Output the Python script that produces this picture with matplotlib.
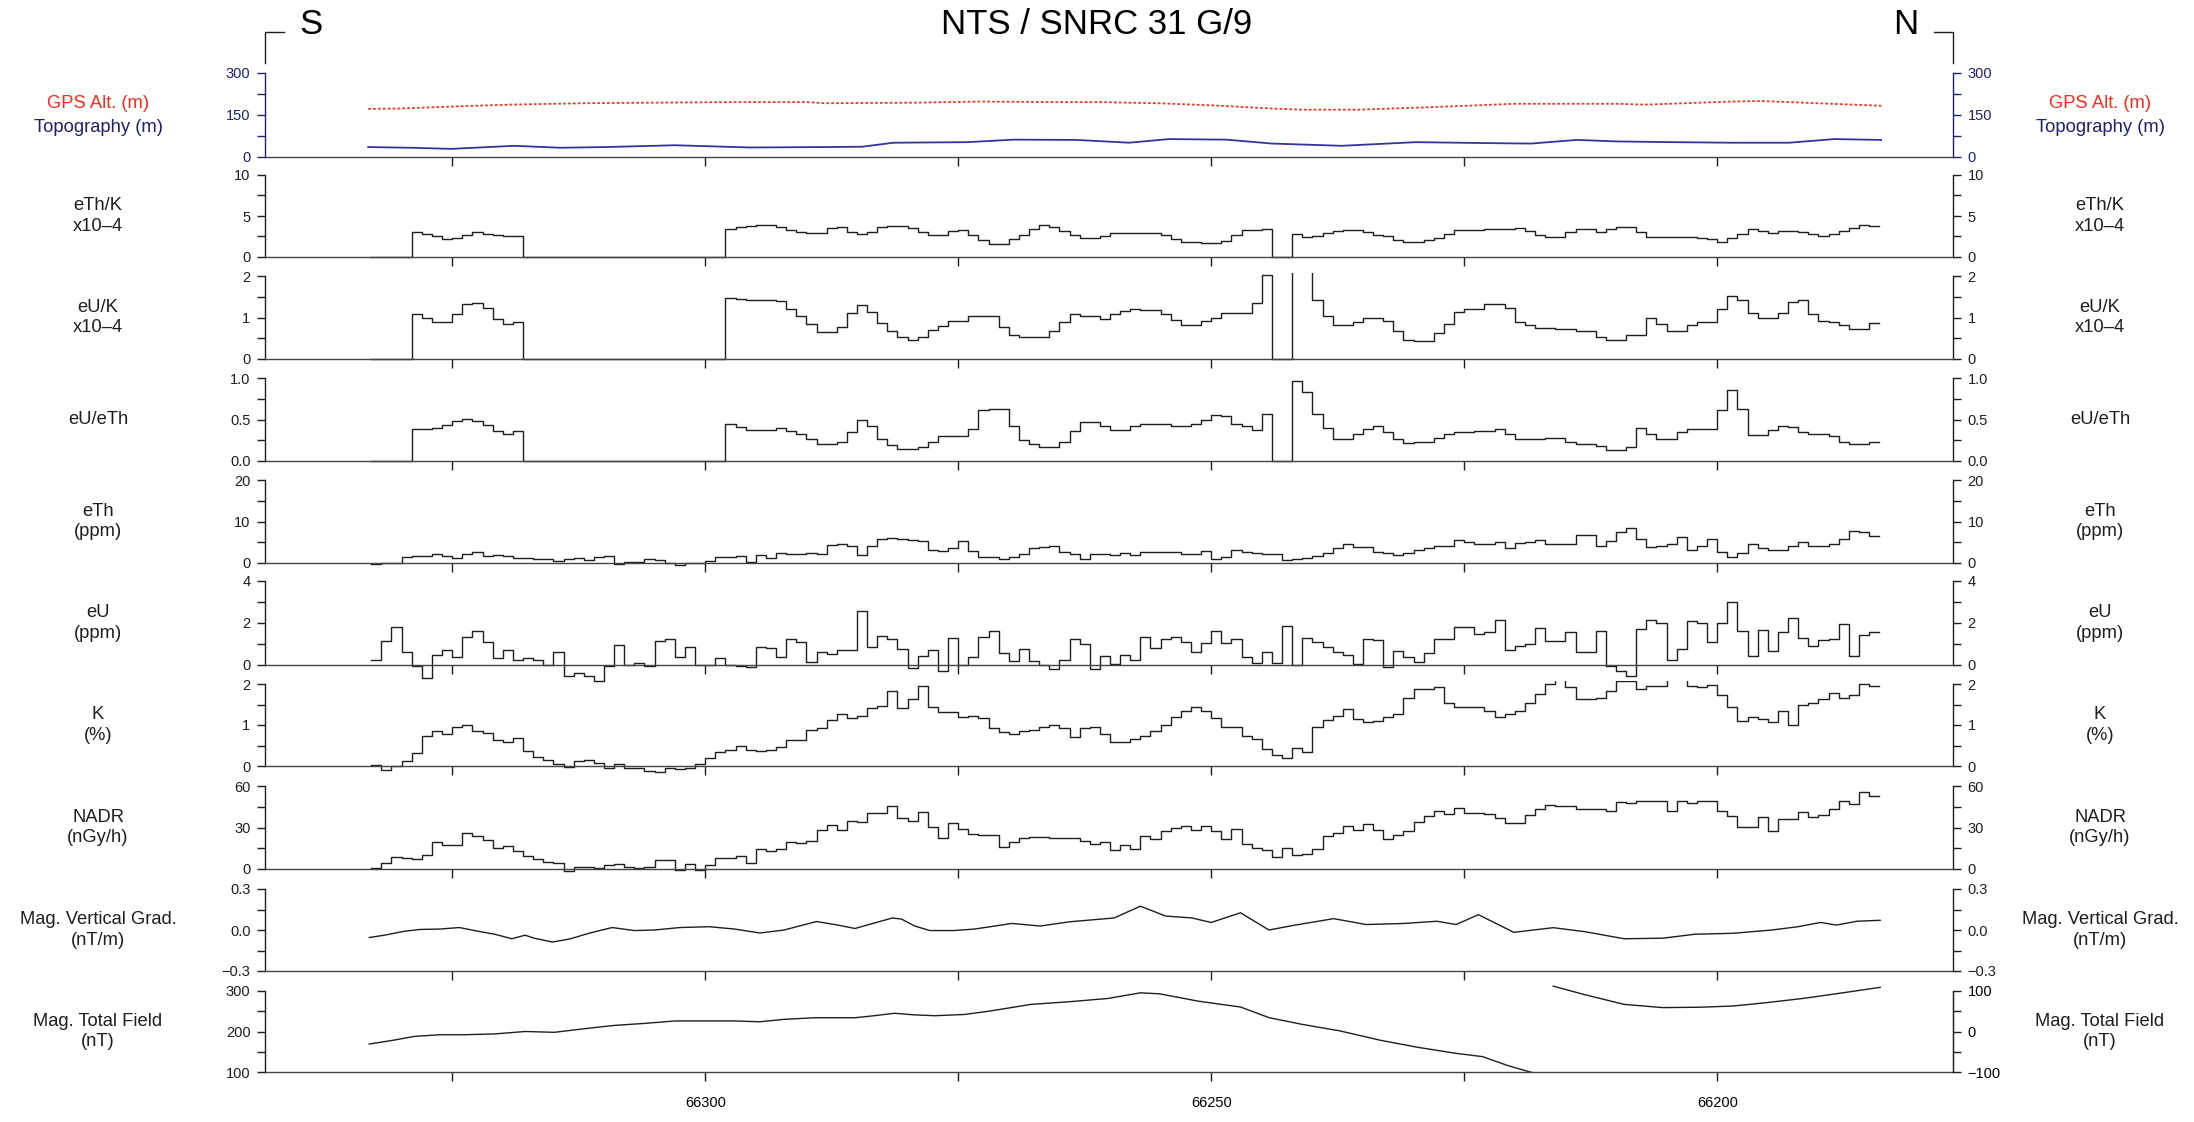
import numpy as np
import matplotlib.pyplot as plt
from matplotlib.lines import Line2D
from matplotlib.patches import Rectangle

plt.rcParams['font.family'] = ['Liberation Sans', 'DejaVu Sans']

W, H = 2194, 1122

# ---------------------------------------------------------------- data
# radiometric channels: one value per 1-fiducial bin, first bin starts at FID0
FID0 = 66333

eth_k = [0, 0, 0, 0,
         3.05, 2.8, 2.5, 2.2, 2.3, 2.65, 3.0, 2.85, 2.7, 2.5, 2.55,
         0, 0, 0, 0, 0, 0, 0, 0, 0, 0, 0, 0, 0, 0, 0, 0, 0, 0, 0, 0,
         3.4, 3.6, 3.75, 3.9, 3.9, 3.7, 3.3, 3.05, 2.9, 2.9, 3.5, 3.65, 3.1, 2.75, 3.0,
         3.6, 3.75, 3.75, 3.5, 3.05, 2.65, 2.65, 3.2, 3.35, 2.7, 2.1,
         1.6, 1.6, 2.2, 2.7, 3.45, 3.95, 3.7, 3.2, 2.7, 2.35, 2.35, 2.55, 2.95, 2.95,
         2.95, 2.95, 2.95, 2.65, 2.2, 1.8, 1.8, 1.7, 1.7, 1.95, 2.7, 3.3, 3.3, 3.45,
         0, 0,
         2.8, 2.45, 2.55, 2.95, 3.2, 3.3, 3.3, 3.0, 2.7, 2.55,
         2.05, 1.8, 1.8, 2.05, 2.35, 2.8, 3.3, 3.3, 3.3, 3.4,
         3.4, 3.45, 3.55, 3.2, 2.7, 2.45, 2.45, 3.0, 3.45, 3.45,
         3.1, 3.45, 3.7, 3.7, 3.0, 2.45, 2.45, 2.45, 2.45, 2.45,
         2.35, 2.2, 1.8, 2.35, 2.8, 3.4, 3.2, 2.9, 3.2, 3.2,
         3.1, 2.8, 2.55, 2.8, 3.2, 3.55, 3.95, 3.75]

eu_k = [0, 0, 0, 0,
        1.08, 0.99, 0.88, 0.88, 1.08, 1.33, 1.36, 1.24, 0.97, 0.85, 0.89,
        0, 0, 0, 0, 0, 0, 0, 0, 0, 0, 0, 0, 0, 0, 0, 0, 0, 0, 0, 0,
        1.48, 1.44, 1.43, 1.42, 1.42, 1.40, 1.21, 1.03, 0.84, 0.65, 0.65, 0.76, 1.10,
        1.29, 1.14, 0.86, 0.67, 0.54, 0.46, 0.52, 0.69, 0.80, 0.91, 0.91, 1.03, 1.03,
        1.04, 0.77, 0.58, 0.52, 0.52, 0.54, 0.67, 0.9, 1.08, 1.04, 1.04, 0.96, 1.08, 1.15,
        1.21, 1.19, 1.19, 1.08, 0.95, 0.82, 0.82, 0.92, 1.0, 1.1, 1.1, 1.1, 1.36, 2.02,
        0, 0,
        2.15, 2.15, 1.42, 1.04, 0.81, 0.81, 0.9, 1.0, 1.0, 0.92,
        0.67, 0.46, 0.44, 0.44, 0.62, 0.85, 1.13, 1.21, 1.21, 1.33,
        1.33, 1.23, 0.88, 0.81, 0.75, 0.75, 0.72, 0.72, 0.67, 0.67,
        0.52, 0.46, 0.46, 0.58, 0.58, 0.98, 0.85, 0.67, 0.67, 0.82,
        0.9, 0.9, 1.21, 1.52, 1.42, 1.12, 0.98, 0.98, 1.10, 1.38,
        1.41, 1.08, 0.92, 0.88, 0.81, 0.73, 0.73, 0.87]

eu_eth = [0, 0, 0, 0,
          0.385, 0.385, 0.40, 0.43, 0.48, 0.51, 0.48, 0.43, 0.36, 0.32, 0.36,
          0, 0, 0, 0, 0, 0, 0, 0, 0, 0, 0, 0, 0, 0, 0, 0, 0, 0, 0, 0,
          0.445, 0.415, 0.37, 0.37, 0.37, 0.40, 0.36, 0.32, 0.26, 0.2, 0.2, 0.23, 0.35,
          0.5, 0.42, 0.26, 0.19, 0.14, 0.14, 0.17, 0.23, 0.3, 0.3, 0.3, 0.38, 0.62,
          0.63, 0.63, 0.42, 0.25, 0.2, 0.17, 0.17, 0.23, 0.36, 0.47, 0.47, 0.42, 0.37, 0.37,
          0.42, 0.45, 0.45, 0.44, 0.42, 0.42, 0.45, 0.5, 0.56, 0.54, 0.45, 0.42, 0.37, 0.57,
          0, 0,
          0.96, 0.83, 0.57, 0.40, 0.27, 0.27, 0.32, 0.39, 0.42, 0.35,
          0.27, 0.22, 0.23, 0.23, 0.28, 0.33, 0.35, 0.35, 0.36, 0.36,
          0.39, 0.32, 0.26, 0.27, 0.27, 0.28, 0.28, 0.23, 0.21, 0.21,
          0.18, 0.13, 0.13, 0.17, 0.4, 0.33, 0.27, 0.27, 0.35, 0.38,
          0.38, 0.38, 0.61, 0.85, 0.63, 0.31, 0.31, 0.37, 0.42, 0.41,
          0.35, 0.32, 0.32, 0.30, 0.23, 0.2, 0.21, 0.23]

eth = [-0.2, 0.0, 0.0, 1.5, 1.7, 1.7, 2.1, 1.6, 1.3, 2.2,
       2.7, 1.8, 1.85, 1.6, 1.3, 1.3, 1.0, 1.0, 0.4, 0.9,
       1.1, 0.75, 1.5, 1.7, -0.15, 0.2, 0.15, 1.0, 0.75, 0.0,
       -0.4, 0.0, 0.0, 0.4, 1.5, 1.5, 1.6, 0.15, 2.0, 1.3,
       2.4, 2.1, 2.1, 2.4, 2.2, 4.3, 4.6, 4.1, 1.85, 4.1,
       5.8, 6.1, 5.8, 5.6, 5.2, 3.1, 3.0, 3.6, 5.3, 2.8,
       1.5, 1.5, 1.0, 1.35, 2.1, 3.5, 3.8, 4.2, 2.7, 2.25,
       1.0, 2.25, 2.25, 1.95, 2.5, 1.95, 2.6, 2.6, 2.6, 2.6,
       2.25, 2.25, 3.0, 1.0, 1.5, 3.2, 2.7, 2.5, 2.1, 2.1,
       0.75, 1.0, 1.2, 1.7, 2.5, 3.5, 4.5, 3.8, 3.8, 2.7,
       2.4, 1.95, 2.5, 3.2, 3.6, 4.2, 4.2, 5.6, 5.0, 4.5,
       4.5, 5.1, 3.6, 4.7, 5.0, 5.5, 4.5, 4.5, 4.5, 6.8,
       6.8, 4.2, 5.3, 7.5, 8.5, 5.9, 3.8, 4.2, 4.5, 6.2,
       3.2, 4.0, 5.9, 2.7, 1.5, 2.5, 4.5, 3.6, 3.2, 3.2,
       4.0, 5.0, 4.2, 4.0, 4.5, 5.9, 7.7, 7.5, 6.6]

eu = [0.25, 1.14, 1.82, 0.6, -0.07, -0.6, 0.47, 0.73, 0.4, 1.33,
      1.63, 1.11, 0.34, 0.7, 0.25, 0.34, 0.25, 0.0, 0.64, -0.52,
      -0.4, -0.52, -0.74, -0.07, 0.96, 0.0, 0.1, -0.07, 1.14, 1.26,
      0.37, 0.84, 0.0, 0.0, 0.34, 0.0, -0.04, -0.1, 0.84, 0.79,
      0.4, 1.23, 1.11, 0.15, 0.6, 0.52, 0.7, 0.7, 2.55, 0.84,
      1.36, 1.23, 0.74, -0.15, 0.44, 0.7, -0.3, 1.29, 0.0, 0.4,
      1.33, 1.64, 0.55, 0.18, 0.75, 0.2, 0.0, -0.2, 0.25, 1.25,
      1.0, -0.2, 0.45, 0.03, 0.48, 0.25, 1.34, 0.8, 1.22, 1.34,
      1.1, 0.6, 1.07, 1.64, 1.07, 1.25, 0.36, 0.1, 0.6, 0.1,
      1.85, 0.0, 1.3, 1.1, 0.85, 0.6, 0.48, 0.06, 1.22, 1.19,
      -0.1, 0.66, 0.36, 0.15, 0.55, 1.25, 1.25, 1.79, 1.79, 1.5,
      1.55, 2.15, 0.7, 0.9, 1.0, 1.75, 1.15, 1.15, 1.55, 0.63,
      0.63, 1.64, -0.05, -0.27, -0.5, 1.7, 2.15, 2.0, 0.25, 0.75,
      2.1, 2.0, 1.1, 2.0, 3.0, 1.6, 0.45, 1.67, 0.66, 1.55,
      2.25, 1.3, 0.9, 1.19, 1.25, 1.95, 0.45, 1.45, 1.55]

k_pct = [0.02, -0.09, 0.0, 0.12, 0.32, 0.73, 0.86, 0.78, 0.96, 1.0,
         0.85, 0.81, 0.63, 0.58, 0.68, 0.37, 0.23, 0.15, 0.06, -0.02,
         0.12, 0.14, 0.08, -0.04, 0.06, -0.04, -0.06, -0.12, -0.14, -0.04,
         -0.08, -0.04, 0.04, 0.19, 0.35, 0.4, 0.5, 0.4, 0.37, 0.4,
         0.46, 0.63, 0.63, 0.88, 0.92, 1.12, 1.27, 1.17, 1.23, 1.42,
         1.46, 1.83, 1.42, 1.63, 1.96, 1.45, 1.32, 1.31, 1.19, 1.23,
         1.17, 0.92, 0.84, 0.78, 0.86, 0.89, 0.94, 1.0, 0.92, 0.7,
         0.92, 0.96, 0.78, 0.59, 0.59, 0.65, 0.72, 0.86, 1.0, 1.2,
         1.35, 1.43, 1.35, 1.16, 0.96, 0.96, 0.73, 0.67, 0.41, 0.27,
         0.19, 0.43, 0.35, 0.96, 1.12, 1.22, 1.38, 1.14, 1.08, 1.1,
         1.19, 1.28, 1.65, 1.87, 1.89, 1.93, 1.54, 1.43, 1.43, 1.43,
         1.35, 1.2, 1.27, 1.35, 1.54, 1.76, 2.0, 2.3, 1.92, 1.63,
         1.63, 1.67, 1.84, 2.08, 2.08, 1.89, 1.95, 1.95, 2.3, 2.3,
         1.95, 1.92, 1.98, 1.73, 1.43, 1.1, 1.19, 1.14, 1.08, 1.33,
         1.0, 1.49, 1.54, 1.63, 1.77, 1.67, 1.73, 2.0, 1.95]

nadr = [0.4, 4.5, 9.0, 8.3, 7.4, 10.1, 19.5, 17.3, 17.3, 26.3,
        24.0, 20.9, 15.1, 16.4, 12.8, 9.7, 7.4, 5.2, 4.5, -1.1,
        1.6, 1.1, 0.7, 2.9, 3.8, 1.1, 0.7, 1.1, 6.5, 6.5,
        -0.7, 3.8, -0.7, 2.9, 8.3, 8.3, 9.7, 4.3, 14.2, 12.8,
        14.2, 19.5, 18.7, 20.2, 28.1, 32.1, 28.1, 34.8, 33.7, 40.4,
        40.4, 45.6, 36.6, 34.4, 41.1, 30.3, 22.5, 33.0, 29.2, 25.4,
        24.7, 24.3, 16.2, 19.5, 22.6, 23.1, 23.1, 22.4, 22.4, 22.4,
        20.2, 17.9, 19.5, 13.8, 17.1, 14.8, 23.8, 21.4, 27.4, 29.8,
        31.4, 28.1, 31.4, 27.4, 21.4, 28.6, 17.9, 15.5, 13.8, 9.0,
        15.5, 10.0, 10.7, 14.3, 23.8, 26.2, 31.0, 28.1, 32.6, 28.1,
        21.4, 24.3, 27.4, 33.8, 38.1, 41.7, 40.0, 44.0, 40.5, 40.5,
        40.0, 36.9, 33.3, 33.3, 39.3, 43.3, 46.4, 45.7, 45.7, 43.3,
        43.3, 43.3, 41.7, 48.1, 47.6, 48.8, 48.8, 49.5, 41.7, 49.5,
        47.6, 48.8, 48.8, 41.7, 38.1, 30.5, 30.5, 37.6, 27.4, 36.2,
        36.2, 41.0, 37.6, 39.3, 43.3, 48.8, 47.1, 56.0, 52.9]

# continuous channels: (fiducial, value)
gps_fid = [66333.3, 66330.2, 66325.1, 66319.4, 66312.1, 66305.3, 66296.7, 66289.9,
           66288.2, 66279.2, 66272.9, 66265.5, 66261.0, 66255.3, 66249.6, 66244.0,
           66241.1, 66235.4, 66229.8, 66224.1, 66220.1, 66209.9, 66207.1, 66198.6,
           66195.7, 66190.1, 66183.8]
gps_alt = [172, 173, 180, 187, 192, 194, 196, 196, 192, 194, 198, 196, 196, 192, 184,
           173, 169, 169, 176, 184, 190, 190, 187, 198, 200, 192, 183]

topo_fid = [66333.3, 66329.1, 66325.1, 66318.9, 66314.3, 66309.8, 66303.0, 66295.6,
            66288.2, 66284.5, 66281.4, 66274.1, 66269.5, 66263.3, 66258.1, 66254.2,
            66248.5, 66244.0, 66237.1, 66229.8, 66221.3, 66218.4, 66213.9, 66209.9,
            66204.3, 66198.6, 66192.9, 66188.4, 66183.8]
topo = [35.5, 33, 29, 40, 33, 35.5, 42, 34, 35.5, 36.7, 51, 53, 62, 61, 51, 64, 62, 48,
        40, 53, 49, 48, 61, 55.6, 53, 51, 51, 64, 61]

mvg_fid = [66333.2, 66331.7, 66329.7, 66328.2, 66326.2, 66324.3, 66322.8, 66320.8,
           66319.1, 66317.8, 66316.9, 66315.1, 66313.4, 66311.4, 66309.2, 66307.0,
           66305.0, 66302.5, 66299.6, 66297.1, 66294.6, 66292.2, 66289.0, 66287.2,
           66285.2, 66283.3, 66281.5, 66280.6, 66279.3, 66277.8, 66275.4, 66273.4,
           66272.0, 66269.7, 66266.9, 66264.0, 66259.6, 66257.0, 66254.5, 66251.9,
           66250.0, 66247.1, 66244.3, 66241.7, 66237.9, 66234.7, 66230.9, 66227.7,
           66225.8, 66223.6, 66220.1, 66216.2, 66213.1, 66209.2, 66205.4, 66202.2,
           66198.4, 66194.6, 66192.0, 66189.8, 66188.2, 66186.2, 66183.9]
mvg = [-0.055, -0.038, -0.009, 0.004, 0.007, 0.018, -0.004, -0.031, -0.064, -0.038,
       -0.06, -0.088, -0.066, -0.022, 0.018, -0.004, 0.0, 0.018, 0.024, 0.007,
       -0.022, 0.0, 0.062, 0.04, 0.011, 0.051, 0.088, 0.08, 0.029, -0.004,
       -0.004, 0.007, 0.022, 0.048, 0.029, 0.06, 0.088, 0.174, 0.102, 0.088,
       0.055, 0.126, 0.0, 0.036, 0.083, 0.04, 0.048, 0.064, 0.04, 0.112,
       -0.017, 0.017, -0.012, -0.064, -0.06, -0.031, -0.024, 0.0, 0.024, 0.055,
       0.036, 0.064, 0.071]

mtf_fid = [66333.2, 66330.7, 66328.7, 66326.2, 66323.8, 66320.8, 66317.8, 66314.9,
           66311.9, 66309.0, 66306.0, 66303.0, 66300.1, 66297.1, 66294.6, 66292.2,
           66289.2, 66285.2, 66283.3, 66281.3, 66279.3, 66277.3, 66274.4, 66272.0,
           66267.8, 66264.0, 66260.2, 66257.0, 66255.1, 66251.3, 66247.1, 66244.3,
           66241.1, 66237.3, 66233.4, 66229.6, 66225.8, 66223.2, 66220.7, 66218.5,
           66216.9]
mtf = [169, 179, 188, 192, 192, 194, 200, 198, 207, 215, 220, 226, 226, 226, 224, 230,
       234, 234, 239, 245, 241, 239, 242, 250, 267, 273.5, 281.6, 295.5, 293, 275,
       260.4, 234.3, 218, 201.6, 179, 161, 146, 138, 116, 100, 92]
# wrapped part of the total field, read against the right-hand scale
mtf2_fid = [66216.2, 66213.1, 66209.2, 66205.4, 66201.6, 66198.4, 66195.2, 66191.4,
            66187.6, 66183.9]
mtf2 = [112, 91, 67, 59, 60, 63, 71, 82, 95.5, 109]

x_ticks = [66325, 66300, 66275, 66250, 66225, 66200]
x_labels = ['', '66300', '', '66250', '', '66200']

# ---------------------------------------------------------------- layout
INK = '#1e1e1e'
NAVY = '#1f1f6e'
RED = '#f2361c'
AX_L, AX_R = 265, 1953
XLIM = (66343.5, 66176.7)
tops_px = [73, 175, 276, 378, 480, 581, 684, 786, 889, 991]
bots_px = [157, 257, 359, 461, 563, 665, 766, 869, 971, 1072]
TICK_FS = 10.5
LABEL_FS = 13.2

fig = plt.figure(figsize=(W / 100, H / 100), dpi=100)
fig.patch.set_facecolor('white')


def panel(i, ylim, major, labels, minor, color=INK):
    ax = fig.add_axes([AX_L / W, 1 - bots_px[i] / H, (AX_R - AX_L) / W,
                       (bots_px[i] - tops_px[i]) / H])
    ax.set_xlim(*XLIM)
    ax.set_ylim(*ylim)
    ax.set_facecolor('none')
    ax.spines['top'].set_visible(False)
    for s in ('left', 'right'):
        ax.spines[s].set_color(color)
        ax.spines[s].set_linewidth(1.0)
    ax.spines['bottom'].set_color('#444444')
    ax.spines['bottom'].set_linewidth(1.0)
    ax.set_xticks(x_ticks)
    ax.set_xticklabels([''] * len(x_ticks))
    ax.tick_params(axis='x', direction='out', length=6.5, width=1.0, color=INK,
                   labelsize=TICK_FS, pad=11)
    ax.set_yticks(major)
    ax.set_yticklabels(labels)
    ax.set_yticks(minor, minor=True)
    ax.tick_params(axis='y', which='both', direction='out', length=5.5, width=1.0,
                   color=color, labelcolor=color, labelsize=TICK_FS, pad=5,
                   left=True, right=True, labelleft=True, labelright=True)
    return ax


def stairs(ax, vals):
    vals = np.asarray(vals, float)
    edges = FID0 - np.arange(len(vals) + 1)
    line, = ax.step(edges, np.append(vals, vals[-1]), where='post', color=INK, lw=1.0)
    line.set_clip_path(Rectangle((0, -0.6), 1, 1.64, transform=ax.transAxes))


def side_label(i, text, color=INK, dy=0.0):
    y = 1 - ((tops_px[i] + bots_px[i]) / 2 + dy) / H
    for x in (98, 2100):
        fig.text(x / W, y, text, ha='center', va='center', fontsize=LABEL_FS,
                 color=color, linespacing=1.25)


# top panel: GPS altitude and topography
ax0 = panel(0, (0, 300), [0, 150, 300], ['0', '150', '300'], [75, 225], color=NAVY)
ax0.plot(gps_fid, gps_alt, color=RED, lw=1.3, ls=(0, (1.5, 1.2)))
ax0.plot(topo_fid, topo, color='#34349a', lw=1.3)
side_label(0, 'GPS Alt. (m)', color='#ff2a1a', dy=-12)
side_label(0, 'Topography (m)', color=NAVY, dy=12)

ax = panel(1, (0, 10), [0, 5, 10], ['0', '5', '10'], [2.5, 7.5])
stairs(ax, eth_k)
side_label(1, 'eTh/K\nx10–4')

ax = panel(2, (0, 2), [0, 1, 2], ['0', '1', '2'], [0.5, 1.5])
stairs(ax, eu_k)
side_label(2, 'eU/K\nx10–4')

ax = panel(3, (0, 1), [0, 0.5, 1], ['0.0', '0.5', '1.0'], [0.25, 0.75])
stairs(ax, eu_eth)
side_label(3, 'eU/eTh')

ax = panel(4, (0, 20), [0, 10, 20], ['0', '10', '20'], [5, 15])
stairs(ax, eth)
side_label(4, 'eTh\n(ppm)')

ax = panel(5, (0, 4), [0, 2, 4], ['0', '2', '4'], [1, 3])
stairs(ax, eu)
side_label(5, 'eU\n(ppm)')

ax = panel(6, (0, 2), [0, 1, 2], ['0', '1', '2'], [0.5, 1.5])
stairs(ax, k_pct)
side_label(6, 'K\n(%)')

ax = panel(7, (0, 60), [0, 30, 60], ['0', '30', '60'], [15, 45])
stairs(ax, nadr)
side_label(7, 'NADR\n(nGy/h)')

ax = panel(8, (-0.3, 0.3), [-0.3, 0, 0.3], ['−0.3', '0.0', '0.3'], [-0.15, 0.15])
ax.plot(mvg_fid, mvg, color=INK, lw=1.0)
side_label(8, 'Mag. Vertical Grad.\n(nT/m)')

ax = panel(9, (100, 300), [100, 200, 300], ['100', '200', '300'], [150, 250])
ax.tick_params(axis='y', which='both', right=False, labelright=False)
ax.set_xticklabels(x_labels)
ax.plot(mtf_fid, mtf, color=INK, lw=1.0)
axr = ax.twinx()
axr.set_xlim(*XLIM)
axr.set_ylim(-100, 100)
for s in ('top', 'left', 'bottom'):
    axr.spines[s].set_visible(False)
axr.spines['right'].set_color(INK)
axr.set_yticks([-100, 0, 100])
axr.set_yticklabels(['−100', '0', '100'])
axr.set_yticks([-50, 50], minor=True)
axr.tick_params(axis='y', which='both', direction='out', length=5.5, width=1.0,
                color=INK, labelsize=TICK_FS, pad=5)
axr.plot(mtf2_fid, mtf2, color=INK, lw=1.0, clip_on=False)
side_label(9, 'Mag. Total Field\n(nT)')

# header
fig.text(0.5, 1 - 24 / H, 'NTS / SNRC 31 G/9', ha='center', va='center', fontsize=25)
fig.text(311 / W, 1 - 24 / H, 'S', ha='center', va='center', fontsize=25)
fig.text(1906 / W, 1 - 24 / H, 'N', ha='center', va='center', fontsize=25)
for xs in ([AX_L, AX_L, AX_L + 19], [AX_R, AX_R, AX_R - 19]):
    fig.add_artist(Line2D([x / W for x in xs], [1 - 63 / H, 1 - 32 / H, 1 - 32 / H],
                          transform=fig.transFigure, color=INK, lw=1.0))

fig.savefig('out.png', dpi=100, facecolor='white')
